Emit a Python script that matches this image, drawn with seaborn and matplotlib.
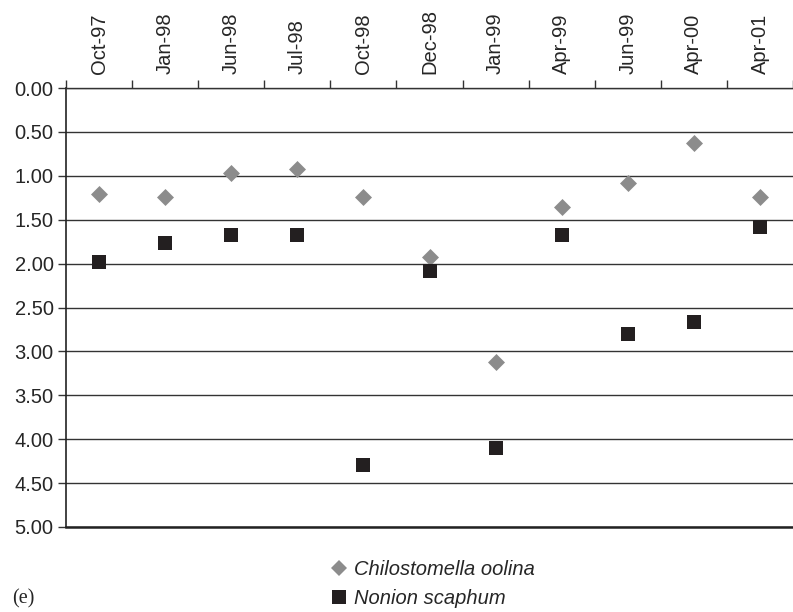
import numpy as np
import pandas as pd
import matplotlib
matplotlib.use("Agg")
import matplotlib.pyplot as plt
from matplotlib.lines import Line2D
import seaborn as sns

dates = ["Oct-97", "Jan-98", "Jun-98", "Jul-98", "Oct-98", "Dec-98",
         "Jan-99", "Apr-99", "Jun-99", "Apr-00", "Apr-01"]
chilostomella = [1.21, 1.24, 0.97, 0.92, 1.24, 1.92, 3.12, 1.36, 1.08, 0.63, 1.24]
nonion = [1.98, 1.76, 1.67, 1.67, 4.29, 2.08, 4.10, 1.67, 2.80, 2.66, 1.58]
series_names = ["Chilostomella oolina", "Nonion scaphum"]
y_ticks = [0.0, 0.5, 1.0, 1.5, 2.0, 2.5, 3.0, 3.5, 4.0, 4.5, 5.0]

sns.set_style("white")
plt.rcParams["font.family"] = ["Liberation Sans", "DejaVu Sans"]

df = pd.DataFrame({
    "pos": list(range(len(dates))) * 2,
    "value": chilostomella + nonion,
    "species": [series_names[0]] * len(dates) + [series_names[1]] * len(dates),
})

fig = plt.figure(figsize=(7.93, 6.12), dpi=100)
ax = fig.add_axes([66 / 793, 1 - 527 / 612, 1 - 66 / 793, (527 - 88) / 612])

colors = {series_names[0]: "#8c8c8c", series_names[1]: "#231f20"}
markers = {series_names[0]: "D", series_names[1]: "s"}

for name, s in [(series_names[0], 75), (series_names[1], 100)]:
    sub = df[df["species"] == name]
    sns.scatterplot(data=sub, x="pos", y="value", color=colors[name],
                    marker=markers[name], s=s, linewidth=0, ax=ax,
                    legend=False, zorder=3)

FS = 14.5
ax.set_ylim(5.0, 0.0)
ax.set_xlim(-0.5, -0.5 + 727 / 66.8)
ax.set_yticks(y_ticks)
ax.set_yticklabels([f"{v:.2f}" for v in y_ticks], fontsize=FS)
ax.yaxis.grid(True, color="#333333", linewidth=1.0)
ax.set_axisbelow(True)

ax.xaxis.tick_top()
ax.set_xticks(range(len(dates)))
ax.set_xticklabels(dates, rotation=90, fontsize=FS)
ax.set_xticks(np.arange(len(dates) + 1) - 0.5, minor=True)
ax.tick_params(axis="x", which="major", length=0, pad=10)
ax.tick_params(axis="x", which="minor", length=6, width=1.0, color="#333333", top=True, bottom=False)
ax.tick_params(axis="y", which="major", length=6, width=1.0, color="#333333", left=True, pad=3)
ax.set_xlabel("")
ax.set_ylabel("")

ax.spines["right"].set_visible(False)
ax.spines["left"].set_color("#222222")
ax.spines["left"].set_linewidth(1.2)
ax.spines["top"].set_color("#333333")
ax.spines["top"].set_linewidth(1.0)
ax.spines["bottom"].set_color("#222222")
ax.spines["bottom"].set_linewidth(1.8)

handles = [
    Line2D([0], [0], marker="D", color="none", markerfacecolor=colors[series_names[0]],
           markeredgewidth=0, markersize=8.5),
    Line2D([0], [0], marker="s", color="none", markerfacecolor=colors[series_names[1]],
           markeredgewidth=0, markersize=9.5),
]
fig.legend(handles, series_names, loc="center", bbox_to_anchor=(432 / 793, 1 - 584 / 612),
           frameon=False, prop=dict(style="italic", size=FS), handletextpad=0.25,
           labelspacing=0.5, handlelength=1.0)

fig.text(12 / 793, 1 - 599 / 612, "(e)", fontsize=FS, family="Liberation Serif", va="center")

fig.savefig("out.png", dpi=100)
